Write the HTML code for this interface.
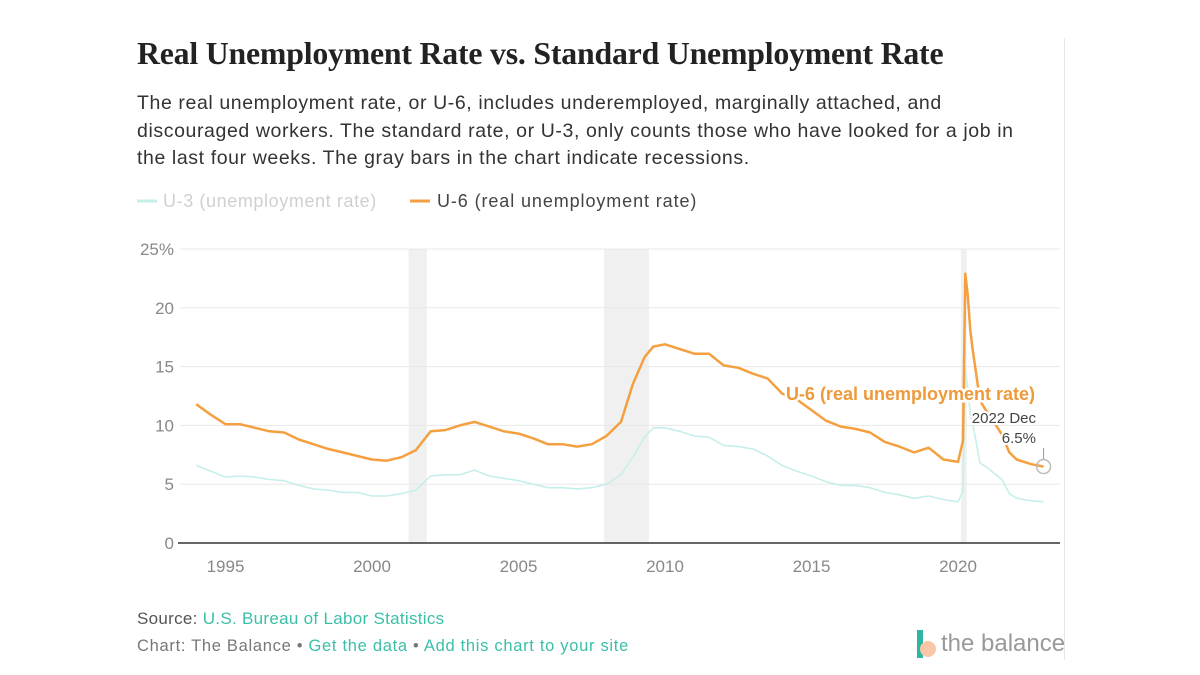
<!DOCTYPE html>
<html><head><meta charset="utf-8"><style>
body{margin:0;background:#fff;width:1200px;height:675px;overflow:hidden;position:relative;font-family:"Liberation Sans",sans-serif}
.t{position:absolute;left:137px;top:36px;font-family:"Liberation Serif",serif;font-weight:bold;font-size:31.8px;color:#222;letter-spacing:-0.2px}
.s{position:absolute;left:137px;top:90px;white-space:nowrap;font-size:19.5px;line-height:27.5px;color:#333;letter-spacing:0.6px}
.f{position:absolute;left:137px;font-size:16.5px;color:#555}
.f a{color:#3bbfa8;text-decoration:none}
</style></head><body>
<div class="t">Real Unemployment Rate vs. Standard Unemployment Rate</div>
<div class="s">The real unemployment rate, or U-6, includes underemployed, marginally attached, and<br>discouraged workers. The standard rate, or U-3, only counts those who have looked for a job in<br>the last four weeks. The gray bars in the chart indicate recessions.</div>
<div style="position:absolute;left:1064px;top:38px;width:1px;height:622px;background:#e6e6e6"></div>
<svg id="c" width="1200" height="675" style="position:absolute;left:0;top:0"></svg>
<div class="f" style="top:609px;font-size:17px;letter-spacing:0.3px">Source: <a>U.S. Bureau of Labor Statistics</a></div>
<div class="f" style="top:637px;color:#777;letter-spacing:0.7px">Chart: The Balance • <a>Get the data</a> • <a>Add this chart to your site</a></div>
<div style="position:absolute;left:917px;top:630px;width:6px;height:28px;background:#2cb5a0"></div>
<div style="position:absolute;left:920px;top:641px;width:16px;height:16px;border-radius:50%;background:#f9c7a8"></div>
<div style="position:absolute;left:941px;top:630px;font-size:24px;color:#999">the balance</div>
<script>
const years=[1994.0,1994.5,1995.0,1995.5,1996.0,1996.5,1997.0,1997.5,1998.0,1998.5,1999.0,1999.5,2000.0,2000.5,2001.0,2001.5,2002.0,2002.5,2003.0,2003.5,2004.0,2004.5,2005.0,2005.5,2006.0,2006.5,2007.0,2007.5,2008.0,2008.5,2008.9,2009.3,2009.6,2010.0,2010.5,2011.0,2011.5,2012.0,2012.5,2013.0,2013.5,2014.0,2014.5,2015.0,2015.5,2016.0,2016.5,2017.0,2017.5,2018.0,2018.5,2019.0,2019.5,2020.0,2020.17,2020.25,2020.33,2020.42,2020.5,2020.75,2021.0,2021.25,2021.5,2021.75,2022.0,2022.5,2022.92];
const u6=[11.8,10.9,10.1,10.1,9.8,9.5,9.4,8.8,8.4,8.0,7.7,7.4,7.1,7.0,7.3,7.9,9.5,9.6,10.0,10.3,9.9,9.5,9.3,8.9,8.4,8.4,8.2,8.4,9.1,10.3,13.5,15.8,16.7,16.9,16.5,16.1,16.1,15.1,14.9,14.4,14.0,12.7,12.2,11.3,10.4,9.9,9.7,9.4,8.6,8.2,7.7,8.1,7.1,6.9,8.7,22.9,21.1,18.1,16.5,12.1,11.1,10.2,9.2,7.7,7.1,6.7,6.5];
const u3=[6.6,6.1,5.6,5.7,5.6,5.4,5.3,4.9,4.6,4.5,4.3,4.3,4.0,4.0,4.2,4.5,5.7,5.8,5.8,6.2,5.7,5.5,5.3,5.0,4.7,4.7,4.6,4.7,5.0,5.8,7.3,9.0,9.8,9.8,9.5,9.1,9.0,8.3,8.2,8.0,7.4,6.6,6.1,5.7,5.2,4.9,4.9,4.7,4.3,4.1,3.8,4.0,3.7,3.5,4.4,14.7,13.2,11.0,10.2,6.8,6.4,5.9,5.4,4.2,3.8,3.6,3.5];
const recessions=[[2001.25,2001.87],[2007.92,2009.45],[2020.1,2020.3]];
const yTicks=[0,5,10,15,20,25];
const xTicks=[1995,2000,2005,2010,2015,2020];
const X=y=>958+(y-2020)*29.3, Y=v=>543-11.76*v;
const svg=document.getElementById('c'),NS='http://www.w3.org/2000/svg';
function mk(t,a,p){const e=document.createElementNS(NS,t);for(const k in a)e.setAttribute(k,a[k]);(p||svg).appendChild(e);return e;}
recessions.forEach(r=>{const e=mk('rect',{x:X(r[0]),y:Y(25),width:X(r[1])-X(r[0]),height:Y(0)-Y(25),fill:'#f0f0f0'});

});
yTicks.forEach(v=>{if(v>0){const g=mk('line',{x1:180,x2:1060,y1:Y(v),y2:Y(v),stroke:'#e8e8e8'});

}
const t=mk('text',{x:174,y:Y(v)+6,'text-anchor':'end','font-size':17,fill:'#888'});t.textContent=v===25?'25%':v;

});
const ax=mk('line',{x1:178,x2:1060,y1:Y(0),y2:Y(0),stroke:'#333','stroke-width':1.5});


xTicks.forEach(y=>{const t=mk('text',{x:X(y),y:572,'text-anchor':'middle','font-size':17,fill:'#888'});t.textContent=y;

});
function path(vals,col,w,name){const d=years.map((y,i)=>(i?'L':'M')+X(y).toFixed(1)+','+Y(vals[i]).toFixed(1)).join('');
const p=mk('path',{d:d,fill:'none',stroke:col,'stroke-width':w,'stroke-linejoin':'round'});

}
path(u3,'#c6efeb',1.6,'u3-line');
path(u6,'#f5a040',2.5,'u6-line');
const lab=mk('text',{x:1035,y:400,'text-anchor':'end','font-size':18,'font-weight':'bold',fill:'#ee9a3a',stroke:'#fff','stroke-width':5,'paint-order':'stroke'});lab.textContent='U-6 (real unemployment rate)';


[['2022 Dec',423],['6.5%',443]].forEach(a=>{const t=mk('text',{x:1036,y:a[1],'text-anchor':'end','font-size':15,fill:'#444',stroke:'#fff','stroke-width':4,'paint-order':'stroke'});t.textContent=a[0];

});
mk('line',{x1:X(2022.92),x2:X(2022.92),y1:448,y2:Y(6.5)-7,stroke:'#999'});
const c=mk('circle',{cx:X(2022.92),cy:Y(6.5),r:7,fill:'none',stroke:'#bbb','stroke-width':1.5});


const l1=mk('line',{x1:137,x2:157,y1:201,y2:201,stroke:'#c6efeb','stroke-width':3});


const t1=mk('text',{x:163,y:207,'font-size':18,fill:'#d0d0d0','letter-spacing':0.6});t1.textContent='U-3 (unemployment rate)';


const l2=mk('line',{x1:410,x2:430,y1:201,y2:201,stroke:'#f5a040','stroke-width':3});


const t2=mk('text',{x:437,y:207,'font-size':18,fill:'#444','letter-spacing':0.9});t2.textContent='U-6 (real unemployment rate)';


</script>
</body></html>
